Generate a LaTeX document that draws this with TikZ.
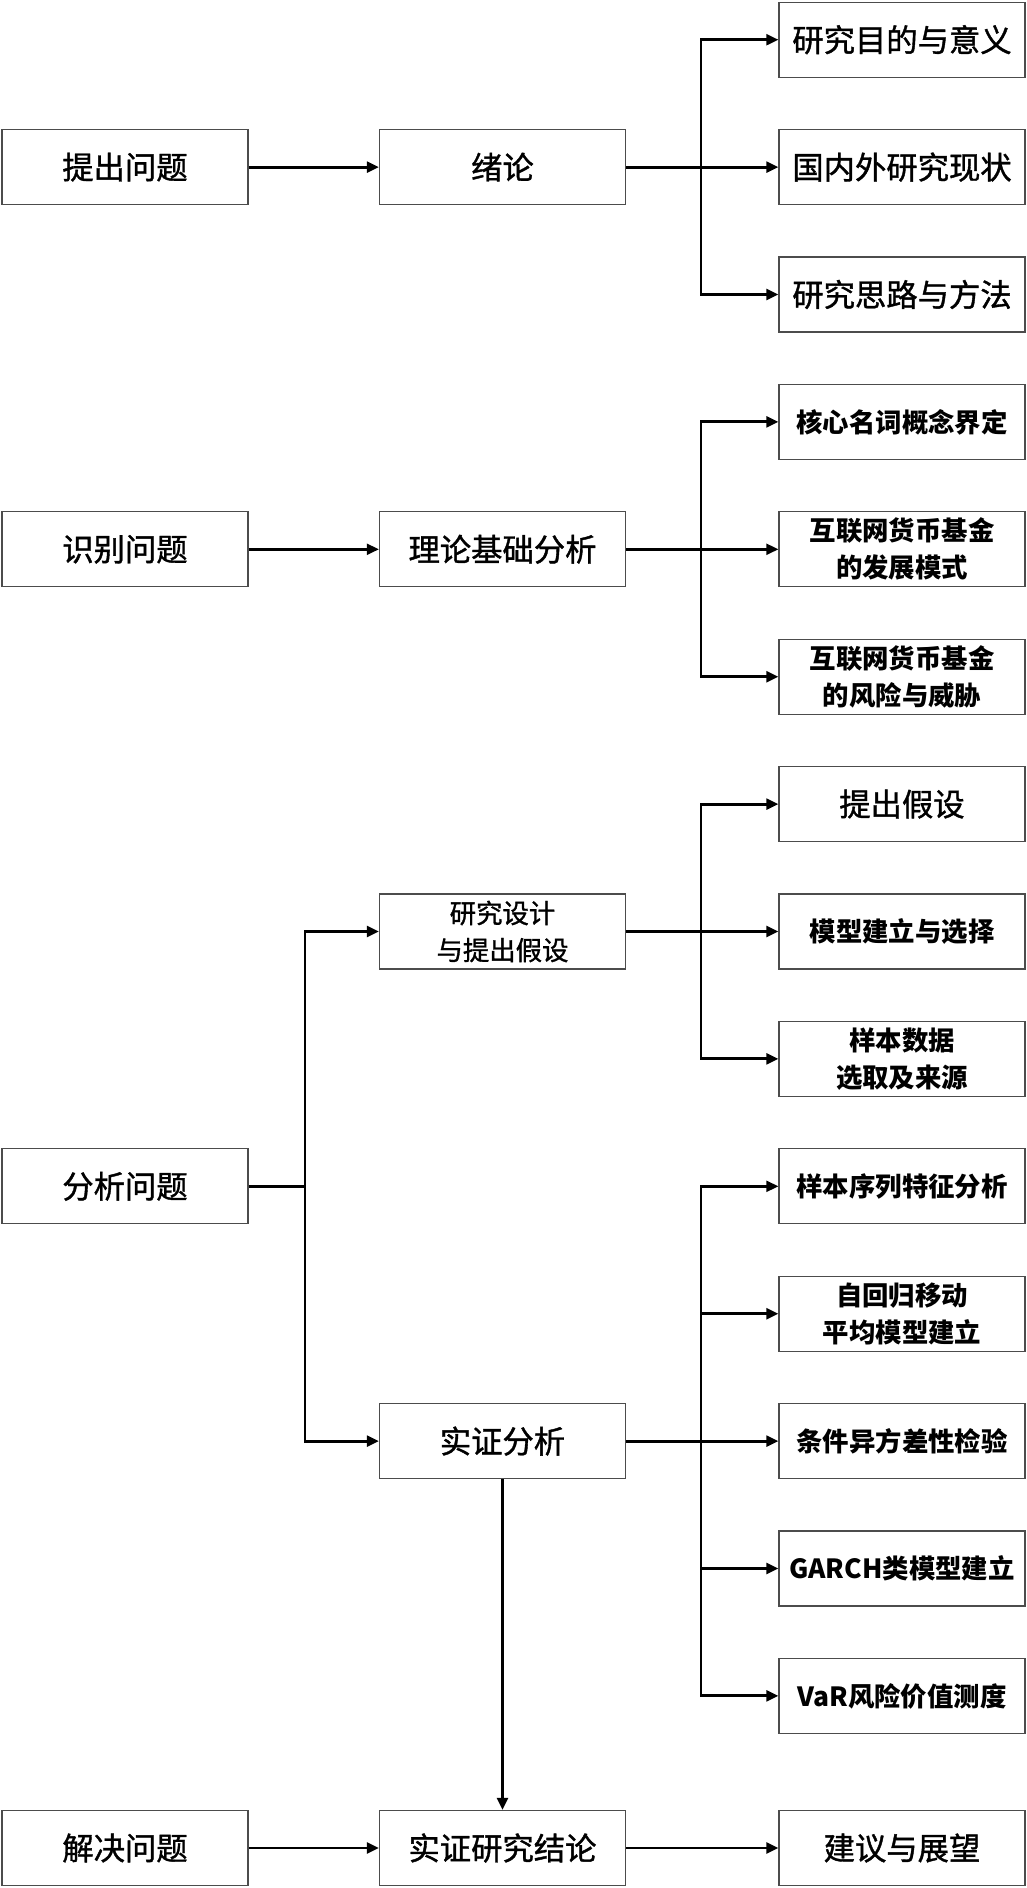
\documentclass[tikz,border=0pt]{standalone}
\usepackage{fontspec}
\setmainfont{Noto Sans CJK SC}
\newfontfamily\heiti[FakeBold=1.2]{Noto Sans CJK SC}
\usetikzlibrary{arrows.meta}

\begin{document}
\begin{tikzpicture}[x=0.75pt,y=-0.75pt,
    box/.style={draw=black!70,line width=0.8pt,minimum width=184.5pt,minimum height=56.25pt,inner sep=0pt,align=center},
    big/.style={box,font=\heiti\fontsize{23.5}{28}\selectfont},
    mid/.style={box,font=\heiti\fontsize{19.8}{27.75}\selectfont},
    small/.style={box,font=\bfseries\fontsize{19.8}{27.75}\selectfont},
    link/.style={line width=2.2pt},
    arr/.style={link,-{Triangle[length=9pt,width=8pt]}}]
        \useasboundingbox (0,0) rectangle (1026,1888);
        % left column
        \node[big] (ask) at (125,167.1) {提出问题};
        \node[big] (spot) at (125,549.3) {识别问题};
        \node[big] (anal) at (125,1186.3) {分析问题};
        \node[big] (solve) at (125,1848) {解决问题};
        % middle column
        \node[big] (intro) at (502.5,167.1) {绪论};
        \node[big] (theory) at (502.5,549.3) {理论基础分析};
        \node[mid] (design) at (502.5,931.5) {研究设计\\与提出假设};
        \node[big] (emp) at (502.5,1441.1) {实证分析};
        \node[big] (final) at (502.5,1848) {实证研究结论};
        % right column
        \node[big] (aim) at (902,39.7) {研究目的与意义};
        \node[big] (lit) at (902,167.1) {国内外研究现状};
        \node[big] (way) at (902,294.5) {研究思路与方法};
        \node[small] (term) at (902,421.9) {核心名词概念界定};
        \node[small] (mode) at (902,549.3) {互联网货币基金\\的发展模式};
        \node[small] (risk) at (902,676.7) {互联网货币基金\\的风险与威胁};
        \node[big] (hyp) at (902,804.1) {提出假设};
        \node[small] (model) at (902,931.5) {模型建立与选择};
        \node[small] (data) at (902,1058.9) {样本数据\\选取及来源};
        \node[small] (feat) at (902,1186.3) {样本序列特征分析};
        \node[small] (arma) at (902,1313.7) {自回归移动\\平均模型建立};
        \node[small] (het) at (902,1441.1) {条件异方差性检验};
        \node[small] (garch) at (902,1568.5) {GARCH类模型建立};
        \node[small] (var) at (902,1695.9) {VaR风险价值测度};
        \node[big] (outlook) at (902,1848) {建议与展望};
        % junctions
        \coordinate (j1) at (701,167.1);
        \coordinate (j2) at (701,549.3);
        \coordinate (j3) at (305,1186.3);
        \coordinate (j4) at (701,931.5);
        \coordinate (j5) at (701,1441.1);
        % connectors
        \draw[arr] (ask) -- (intro);
        \draw[link] (intro) -- (j1);
        \draw[arr] (j1) |- (aim);
        \draw[arr] (j1) -- (lit);
        \draw[arr] (j1) |- (way);
        \draw[arr] (spot) -- (theory);
        \draw[link] (theory) -- (j2);
        \draw[arr] (j2) |- (term);
        \draw[arr] (j2) -- (mode);
        \draw[arr] (j2) |- (risk);
        \draw[link] (anal) -- (j3);
        \draw[arr] (j3) |- (design);
        \draw[arr] (j3) |- (emp);
        \draw[link] (design) -- (j4);
        \draw[arr] (j4) |- (hyp);
        \draw[arr] (j4) -- (model);
        \draw[arr] (j4) |- (data);
        \draw[link] (emp) -- (j5);
        \draw[arr] (j5) |- (feat);
        \draw[arr] (j5) |- (arma);
        \draw[arr] (j5) -- (het);
        \draw[arr] (j5) |- (garch);
        \draw[arr] (j5) |- (var);
        \draw[arr] (emp) -- (final);
        \draw[arr] (solve) -- (final);
        \draw[arr] (final) -- (outlook);
    \end{tikzpicture}
\end{document}
